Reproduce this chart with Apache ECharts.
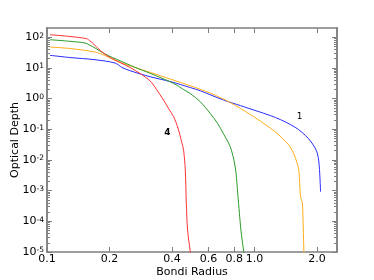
<!DOCTYPE html>
<html><head><meta charset="utf-8">
<script src="https://cdn.jsdelivr.net/npm/echarts@6/dist/echarts.min.js"></script>
<style>html,body{margin:0;padding:0;background:#fff}#c{width:374px;height:280px}</style>
</head><body><div id="c"></div>
<script>
// tick values
const xTickValues = [0.1, 0.2, 0.4, 0.6, 0.8, 1.0, 2.0];
const yTickExponents = [-5, -4, -3, -2, -1, 0, 1, 2];
const minorMultipliers = [2, 3, 4, 5, 6, 7, 8, 9];

// curve 1 (blue)
const curve1 = [[0.1034,25.7],[0.1292,21.8],[0.1705,18.5],[0.2131,14.4],[0.2296,10.4],[0.2518,8.08],[0.3145,5.15],[0.3928,3.59],[0.4907,2.29],[0.5483,1.80],[0.7106,0.894],[0.8557,0.591],[1.030,0.391],[1.195,0.279],[1.335,0.2064],[1.493,0.1418],[1.632,0.0977],[1.764,0.062],[1.864,0.041],[1.950,0.02614],[2.009,0.01665],[2.045,0.00847],[2.068,0.0028],[2.084,0.00091]];
// curve 2 (orange)
const curve2 = [[0.1034,47.9],[0.1292,42.9],[0.1705,32.9],[0.1906,25.3],[0.2015,21.0],[0.2253,15.19],[0.2661,10.27],[0.3145,7.16],[0.3928,4.33],[0.4907,2.62],[0.5483,2.00],[0.6130,1.512],[0.6850,1.078],[0.7658,0.740],[0.8557,0.479],[0.9565,0.3005],[1.109,0.155],[1.287,0.0731],[1.465,0.0304],[1.543,0.01665],[1.608,0.00768],[1.637,0.00464],[1.668,0.000624],[1.700,0.000419],[1.711,0.000183],[1.731,0.00001],[1.736,0.0000046]];
// curve 3 (green)
const curve3 = [[0.1034,83.0],[0.1292,73.6],[0.1527,64.8],[0.1613,54.5],[0.1705,44.5],[0.1906,28.3],[0.2253,17.0],[0.2661,10.4],[0.3145,6.64],[0.4075,3.13],[0.4555,1.967],[0.4907,1.457],[0.5483,0.786],[0.6130,0.324],[0.6628,0.1586],[0.7106,0.0694],[0.7513,0.0353],[0.7743,0.02086],[0.7963,0.00984],[0.8142,0.00399],[0.8305,0.000824],[0.8463,0.000183],[0.8607,0.0000511],[0.8878,0.00001],[0.8997,0.0000046]];
// curve 4 (red)
const curve4 = [[0.1034,120.9],[0.1292,105.6],[0.1555,89.5],[0.1613,75.3],[0.1674,61.4],[0.1763,42.9],[0.1871,30.6],[0.2015,21.8],[0.2253,14.96],[0.2518,10.27],[0.2814,6.55],[0.3145,3.73],[0.3363,2.042],[0.3646,0.894],[0.3842,0.49],[0.4075,0.2586],[0.4280,0.109],[0.4474,0.0353],[0.4555,0.0209],[0.4642,0.00464],[0.4694,0.000389],[0.4762,0.0000511],[0.4907,0.00001],[0.4963,0.0000054]];

const seriesNames = ['1', '2', '3', '4'];
const seriesColors = ['#2b2bff', '#ffab1a', '#2a9a2a', '#ff3333'];
const curveLabels = [{name:'1', at:[1.65, 0.249]}, {name:'4', at:[0.380, 0.0748]}];

const yMajor = yTickExponents.map(e => Math.pow(10, e));
const yMinor = [];
yTickExponents.slice(0, -1).forEach(e => minorMultipliers.forEach(m => yMinor.push(m * Math.pow(10, e))));

const FONT = 'DejaVu Sans';
const frame = '#7f7f7f';
const yMin = 1e-5, yMax = 200, xMin = 0.1, xMax = 2.5;

function yAx(pos, ticks, len, labels) {
  return {
    type: 'log', logBase: 10, min: yMin, max: yMax, position: pos,
    name: labels ? 'Optical Depth' : '', nameLocation: 'middle', nameGap: 26, nameMoveOverlap: false,
    nameTextStyle: {fontFamily: FONT, fontSize: 11, color: '#000'},
    axisLine: {show: true, lineStyle: {color: frame, width: 1.5}},
    axisTick: {show: true, inside: true, length: len, customValues: ticks, lineStyle: {color: frame, width: 1}},
    axisLabel: {show: !!labels, customValues: ticks, margin: 3, fontFamily: FONT, fontSize: 11, color: '#000',
      formatter: v => '10{s|' + Math.round(Math.log10(v)) + '}',
      rich: {s: {fontSize: 7.5, fontFamily: FONT, color: '#000', verticalAlign: 'top', lineHeight: 8}}},
    splitLine: {show: false}, minorTick: {show: false}
  };
}
function xAx(pos, labels) {
  return {
    type: 'log', logBase: 10, min: xMin, max: xMax, position: pos,
    name: labels ? 'Bondi Radius' : '', nameLocation: 'middle', nameGap: 15, nameMoveOverlap: false,
    nameTextStyle: {fontFamily: FONT, fontSize: 11, color: '#000'},
    axisLine: {show: true, lineStyle: {color: frame, width: 1.5}},
    axisTick: {show: true, inside: true, length: 5, customValues: xTickValues, lineStyle: {color: frame, width: 1}},
    axisLabel: {show: !!labels, customValues: xTickValues, margin: 2, fontFamily: FONT, fontSize: 11, color: '#000',
      formatter: v => v.toFixed(1)},
    splitLine: {show: false}
  };
}

const curves = [curve1, curve2, curve3, curve4];
const series = curves.map((d, i) => ({
  name: seriesNames[i], type: 'line', data: d, xAxisIndex: 0, yAxisIndex: 0,
  showSymbol: false, smooth: 0.3,
  lineStyle: {color: seriesColors[i], width: 1}, itemStyle: {color: seriesColors[i]},
  z: 2 + i, clip: true,
  markPoint: (() => {
    const l = curveLabels.find(c => c.name === seriesNames[i]);
    if (!l) return undefined;
    return {symbol: 'circle', symbolSize: 0, silent: true,
      label: {show: true, formatter: l.name, color: '#000', fontFamily: FONT, fontSize: 9, fontWeight: l.name === '4' ? 'bold' : 'normal'},
      data: [{coord: l.at}]};
  })()
}));

const chart = echarts.init(document.getElementById('c'), null, {renderer: 'canvas'});
chart.setOption({
  animation: false,
  backgroundColor: '#fff',
  grid: {left: 47, right: 37, top: 28, bottom: 28, containLabel: false, outerBoundsMode: 'none'},
  xAxis: [xAx('bottom', true), xAx('top', false)],
  yAxis: [yAx('left', yMajor, 5, true), yAx('left', yMinor, 3, false), yAx('right', yMajor, 5, false), yAx('right', yMinor, 3, false)],
  series: series
});
</script></body></html>
